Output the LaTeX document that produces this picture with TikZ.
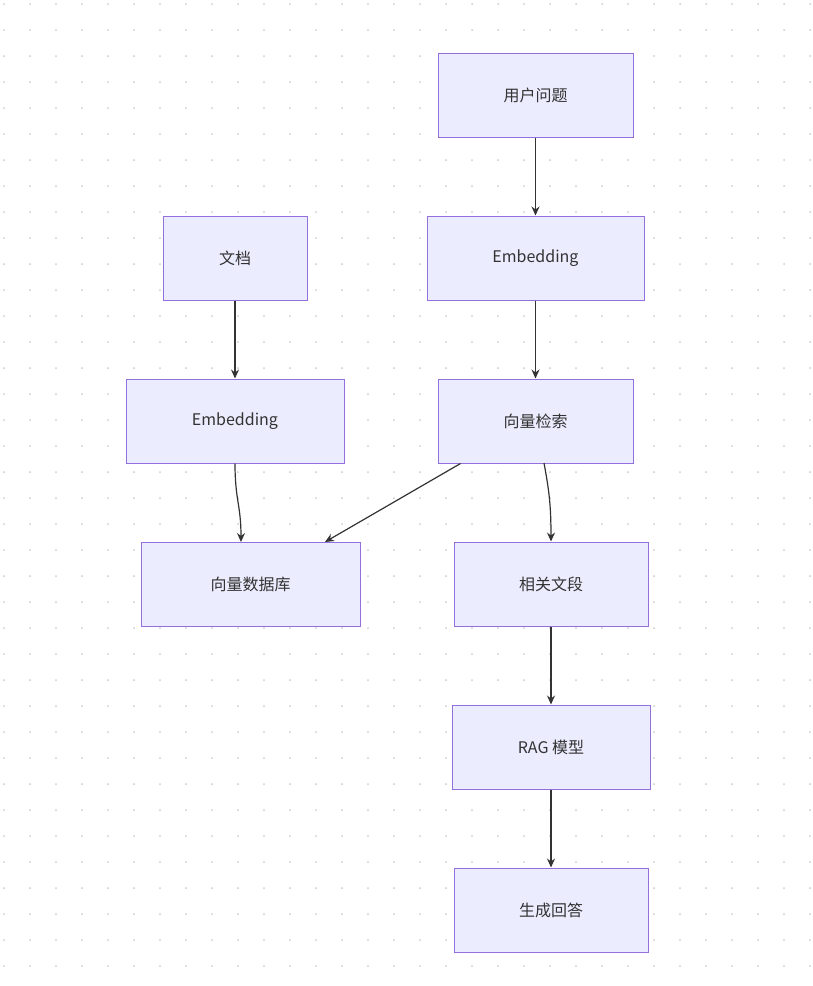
\documentclass[tikz,border=0pt]{standalone}
\usepackage{fontspec}
\setmainfont{Noto Sans CJK SC}
\usetikzlibrary{arrows.meta}
\definecolor{nfill}{HTML}{ECECFF}
\definecolor{nline}{HTML}{9370DB}
\definecolor{eline}{HTML}{333333}
\begin{document}
\begin{tikzpicture}[x=1pt,y=-1pt,
  box/.style={draw=nline,fill=nfill,line width=1pt,minimum height=84pt,inner sep=0pt,font=\fontsize{16}{18}\selectfont,text=eline},
  edge/.style={draw=eline,line width=1.2pt,-{Stealth[length=9pt,width=8pt]}}]
\useasboundingbox (0,0) rectangle (813,986);
\fill[white] (0,0) rectangle (813,986);
\foreach \i in {0,...,31}{\foreach \j in {0,...,38}{
  \fill[gray!40] (4+26*\i,4+26*\j) circle (1pt);}}
\node[box,minimum width=195pt] (q) at (535.5,95) {用户问题};
\node[box,minimum width=217pt] (e2) at (535.5,258) {Embedding};
\node[box,minimum width=144pt] (d) at (235,258) {文档};
\node[box,minimum width=218pt] (e1) at (235,421) {Embedding};
\node[box,minimum width=195pt] (s) at (535.5,421) {向量检索};
\node[box,minimum width=219pt] (db) at (250.5,584) {向量数据库};
\node[box,minimum width=194pt] (r) at (551,584) {相关文段};
\node[box,minimum width=198pt] (m) at (551,747) {RAG 模型};
\node[box,minimum width=194pt] (a) at (551,910) {生成回答};
\draw[edge] (q) -- (e2);
\draw[edge] (e2) -- (s);
\draw[edge] (d) -- (e1);
\draw[edge] (e1.south) .. controls (235,500) and (241,505) .. (241,542);
\draw[edge] (s.south west) ++(23,0) -- (325,542);
\draw[edge] (544,463) .. controls (549,490) and (551,505) .. (r.north);
\draw[edge] (r) -- (m);
\draw[edge] (m) -- (a);
\end{tikzpicture}
\end{document}
